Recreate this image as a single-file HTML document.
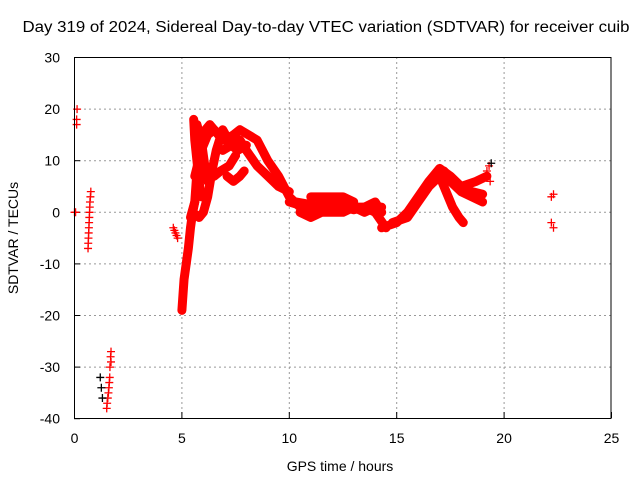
<!DOCTYPE html>
<html><head><meta charset="utf-8"><style>
body{margin:0;background:#fff}
svg text{font-family:"Liberation Sans",sans-serif;fill:#000}
</style></head><body>
<svg id="c" width="640" height="480" viewBox="0 0 640 480" xmlns="http://www.w3.org/2000/svg">
<rect width="640" height="480" fill="#fff"/>
<text x="326" y="32" font-size="15.5" text-anchor="middle" textLength="607" lengthAdjust="spacingAndGlyphs">Day 319 of 2024, Sidereal Day-to-day VTEC variation (SDTVAR) for receiver cuib</text>
<text x="340" y="471" font-size="14" text-anchor="middle">GPS time / hours</text>
<text transform="translate(18,238) rotate(-90)" font-size="14" text-anchor="middle">SDTVAR / TECUs</text>
<g id="grid"></g><g id="ticks"></g><g id="marks"></g>
<rect x="74.5" y="57.5" width="536.5" height="361" fill="none" stroke="#000" stroke-width="1"/>
</svg>
<script>
const xTicks=[0,5,10,15,20,25];
const yTicks=[30,20,10,0,-10,-20,-30,-40];
// dense tracks [hours, TECU]
const trackA=[[5.0,-19],[5.05,-16],[5.1,-13],[5.2,-10],[5.3,-7],[5.4,-3],[5.5,0],[5.6,2]];
const trackB=[[5.6,7],[5.9,12],[6.2,15],[6.5,16],[7,14],[7.4,15],[7.7,16],[8.1,15],[8.5,14],[9,10],[9.5,7],[10,3],[10.5,1]];
const trackC=[[6.9,12],[7.3,13],[7.7,14],[8.0,12],[8.5,9],[9,7],[9.5,5],[10,4]];
const trackD=[[5.4,-1],[5.6,2],[5.7,8],[5.8,6],[6.1,8],[6.5,7],[6.8,8],[7.2,9],[7.5,11]];
const trackE=[[5.5,0],[5.8,-1],[6,0],[6.2,3],[6.4,8],[6.6,12],[6.9,16],[7.3,13],[7.6,12],[8,13]];
const trackF=[[7.1,7],[7.4,6],[7.7,7],[7.9,8]];
const trackG=[[5.55,18],[5.6,14],[5.7,10],[5.8,6],[5.9,3]];
const trackG2=[[5.7,17],[5.9,14],[6.0,11],[6.1,8],[6.2,6]];
const trackG3=[[6.1,16],[6.3,17],[6.5,16],[6.7,15],[6.9,14]];
const trackH=[[10,2],[10.8,1],[11,0],[11.5,2],[12,2],[12.5,2],[13,1],[13.5,0],[14,1],[14.3,1]];
const trackH2=[[10.3,2],[11,1.5],[11.5,1],[12,1],[12.5,1],[13,0.5],[13.5,1],[14,2],[14.3,0]];
const trackI=[[10.5,0],[11,-1],[11.5,0],[12,0],[12.5,0],[13,1],[13.5,1],[14,0],[14.5,-3]];
const trackJ=[[11,3],[11.5,3],[12,3],[12.5,3],[13,2]];
const trackK=[[14.3,-3],[15,-2],[15.5,0],[16,3],[16.5,6],[17,8.5],[17.5,7],[18,5],[18.5,4],[19,3.5]];
const trackL=[[14.8,-2],[15.5,-1],[16,2],[16.5,5],[17,7],[17.5,6],[18,4],[18.5,3],[19,2]];
const trackM=[[17,7],[17.3,4],[17.6,1],[17.9,-1],[18.1,-2]];
const trackN=[[17.2,8],[17.6,6],[18,5],[18.7,6],[19.2,7]];
const tracks=[trackA,trackB,trackC,trackD,trackE,trackF,trackG,trackG2,trackG3,trackH,trackH2,trackI,trackJ,trackK,trackL,trackM,trackN];
// sparse points
const pointsT=[0,0.05,0.1,0.1,0.12,0.63,0.64,0.65,0.66,0.67,0.68,0.69,0.7,0.71,0.72,0.74,0.76,1.5,1.52,1.55,1.58,1.6,1.62,1.64,1.65,1.68,1.7,1.7,4.6,4.65,4.7,4.75,4.8,19.2,19.3,19.35,22.2,22.3,22.2,22.3];
const pointsV=[0,0,17,18,20,-7,-6,-5,-4,-3,-2,-1,0,1,2,3,4,-38,-37,-36,-35,-34,-33,-32,-30,-28,-29,-27,-3,-3.5,-4,-4.5,-5,8,9,6,3,3.5,-2,-3];
const blackT=[1.2,1.25,1.3,19.4];
const blackV=[-32,-34,-36,9.5];
const X=t=>74.5+t*21.48, Y=v=>212.3-v*5.16;
const ns='http://www.w3.org/2000/svg';
const g=document.getElementById('grid'),tk=document.getElementById('ticks'),m=document.getElementById('marks');
function mk(tag,at,par){const e=document.createElementNS(ns,tag);for(const k in at)e.setAttribute(k,at[k]);par.appendChild(e);return e;}
xTicks.forEach(t=>{
 if(t>0&&t<25){const l=mk('line',{x1:X(t),x2:X(t),y1:57,y2:418,stroke:'#999','stroke-dasharray':'2,3'},g);
 
 }
 const s=mk('text',{x:X(t),y:443,'font-size':14,'text-anchor':'middle'},tk);s.textContent=t;
 
 
 mk('line',{x1:X(t),x2:X(t),y1:418,y2:412,stroke:'#000'},tk);
});
yTicks.forEach(v=>{
 if(v<30&&v>-40){const l=mk('line',{x1:74,x2:611,y1:Y(v),y2:Y(v),stroke:'#999','stroke-dasharray':'2,3'},g);
 
 }
 const s=mk('text',{x:60,y:Y(v)+5,'font-size':14,'text-anchor':'end'},tk);s.textContent=v;
 
 
 mk('line',{x1:74,x2:80,y1:Y(v),y2:Y(v),stroke:'#000'},tk);
});
tracks.forEach(tr=>{
 const p=mk('polyline',{points:tr.map(d=>X(d[0])+','+Y(d[1])).join(' '),fill:'none',stroke:'#f00','stroke-width':9,'stroke-linejoin':'round','stroke-linecap':'round'},m);
 
 
});
function plus(x,y,c){return mk('path',{d:`M${x-4},${y}h8M${x},${y-4}v8`,stroke:c,'stroke-width':1.3,fill:'none'},m);}
pointsT.forEach((t,i)=>{const p=plus(X(t),Y(pointsV[i]),'#f00');
 
 });
blackT.forEach((t,i)=>{const p=plus(X(t),Y(blackV[i]),'#000');
 
 });
</script>
</body></html>
